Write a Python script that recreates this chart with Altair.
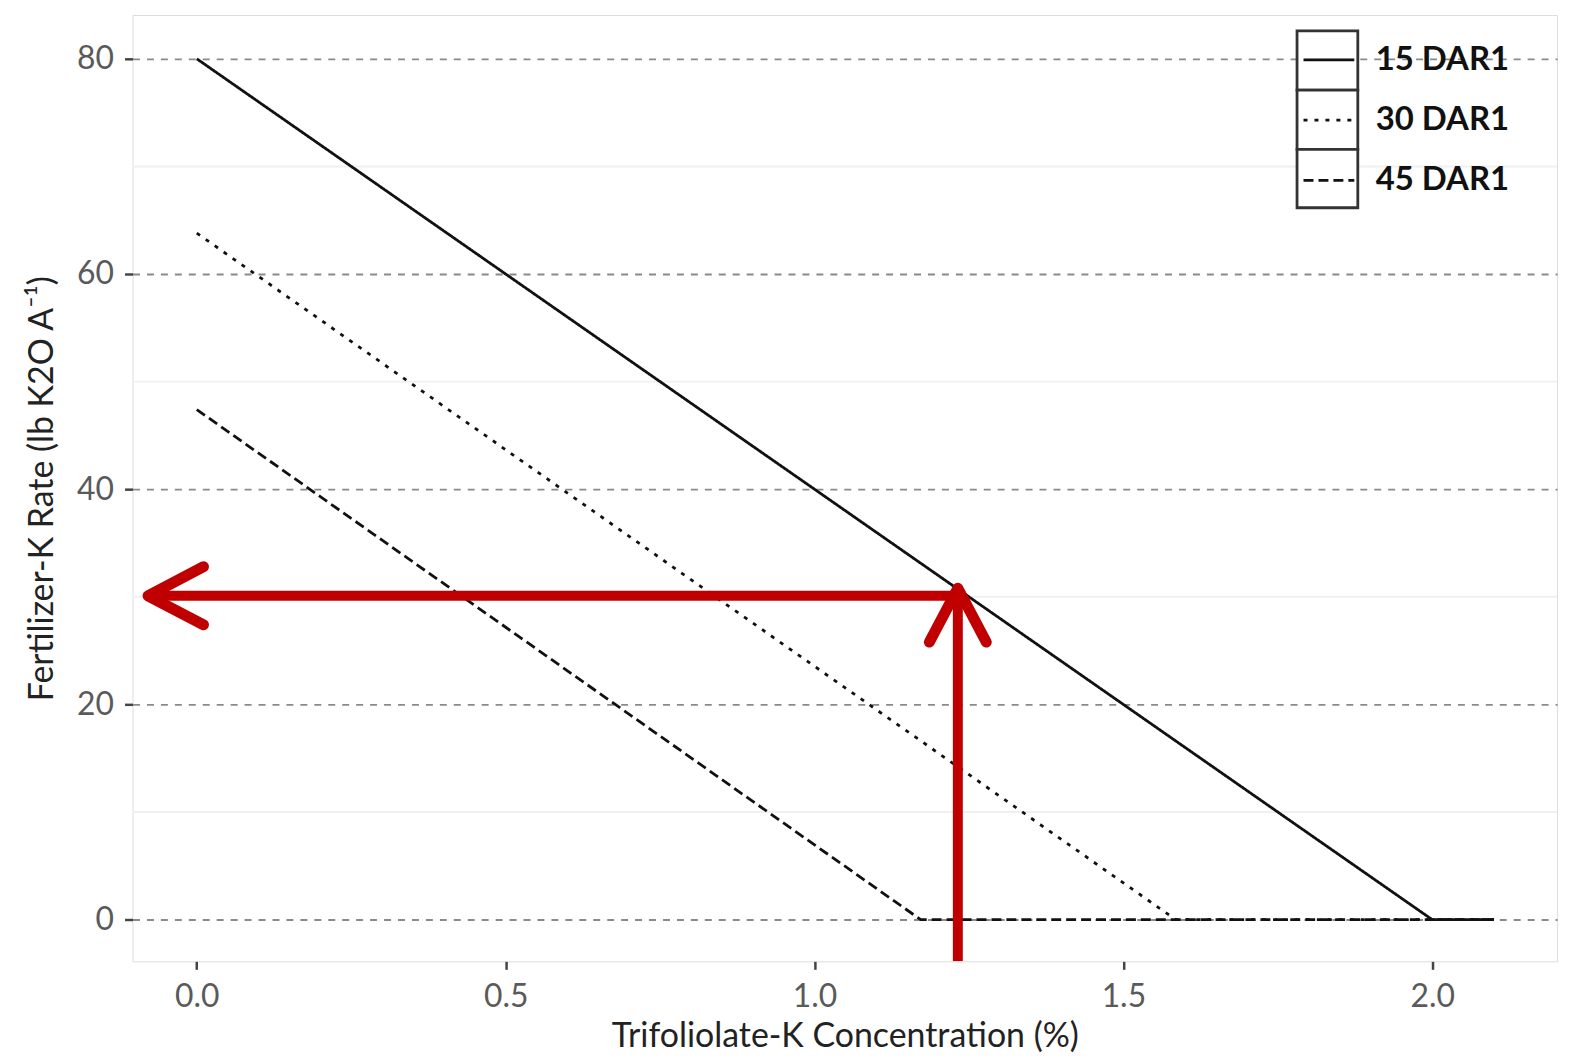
import altair as alt
import pandas as pd

# Series
series_names = ["15 DAR1", "30 DAR1", "45 DAR1"]
conc_15 = [0.0, 2.0, 2.1]
rate_15 = [80.0, 0.0, 0.0]
conc_30 = [0.0, 1.585, 2.1]
rate_30 = [63.8, 0.0, 0.0]
conc_45 = [0.0, 1.172, 2.1]
rate_45 = [47.4, 0.0, 0.0]

# Reading guide (red arrows)
target_conc = 1.232
target_rate = 30.1
h_arrow_tip = -0.079
h_arrow_arm_x = 0.09
h_arrow_arm_dy = 2.7
v_arrow_tip = 30.8
v_arrow_arm_y = 25.8
v_arrow_arm_dx = 0.046

x_ticks = [0.0, 0.5, 1.0, 1.5, 2.0]
y_ticks = [0, 20, 40, 60, 80]
y_minor = [10, 30, 50, 70]

X_DOMAIN = [-0.104, 2.202]
Y_DOMAIN = [-3.87, 84.07]

rows = []
for name, cs, rs in zip(series_names, [conc_15, conc_30, conc_45], [rate_15, rate_30, rate_45]):
    for i, (c, r) in enumerate(zip(cs, rs)):
        rows.append({"series": name, "conc": c, "rate": r, "order": i})
lines_df = pd.DataFrame(rows)

xs = alt.Scale(domain=X_DOMAIN, nice=False, zero=False)
ys = alt.Scale(domain=Y_DOMAIN, nice=False, zero=False)

FONT = "Lato"

x_axis = alt.Axis(values=x_ticks, format=".1f", grid=False, domain=False,
                  tickColor="#444444", tickSize=8, tickWidth=2.5,
                  labelColor="#5a5a5a", labelFontSize=32, labelFont=FONT, labelPadding=12,
                  title="Trifoliolate-K Concentration (%)", titleFont=FONT,
                  titleFontSize=34, titleFontWeight="normal", titleColor="#222222",
                  titlePadding=7)
y_axis = alt.Axis(values=y_ticks, grid=True, gridDash=[7, 7], gridColor="#8a8a8a",
                  gridWidth=1.8, domain=False,
                  tickColor="#444444", tickSize=8, tickWidth=2.5,
                  labelColor="#5a5a5a", labelFontSize=32, labelFont=FONT, labelPadding=11,
                  title="Fertilizer-K Rate (lb K2O A\u207b\u00b9)", titleFont=FONT,
                  titleFontSize=34, titleFontWeight="normal", titleColor="#222222",
                  titlePadding=17)

minor = alt.Chart(pd.DataFrame({"rate": y_minor})).mark_rule(
    color="#f0f0f0", strokeWidth=2
).encode(y=alt.Y("rate:Q", scale=ys, axis=y_axis))

lines = alt.Chart(lines_df).mark_line(color="#111111", strokeWidth=2.8, clip=True).encode(
    x=alt.X("conc:Q", scale=xs, axis=x_axis),
    y=alt.Y("rate:Q", scale=ys, axis=y_axis),
    order="order:O",
    strokeDash=alt.StrokeDash(
        "series:N",
        scale=alt.Scale(domain=series_names, range=[[1, 0], [4, 7], [10, 5]]),
        legend=alt.Legend(title=None, orient="none", legendX=1174, legendY=18,
                          symbolType="stroke", symbolSize=2600, symbolStrokeWidth=2.8,
                          symbolStrokeColor="#111111",
                          labelFont=FONT, labelFontSize=33, labelFontWeight="bold",
                          labelColor="#111111", labelOffset=20, rowPadding=16.5, padding=0),
    ),
)

# Legend key boxes (decoration)
box_x, box_x2 = 1169, 1230
box_rows = [(16, 75.5), (75.5, 135), (135, 193.5)]
boxes = []
for (y0, y1) in box_rows:
    boxes.append(
        alt.Chart(pd.DataFrame({"a": [0]})).mark_rect(
            fill="white", stroke="#333333", strokeWidth=2.8
        ).encode(x=alt.value(box_x), x2=alt.value(box_x2), y=alt.value(y0), y2=alt.value(y1))
    )

# Red arrows
shafts_df = pd.DataFrame({
    "x": [target_conc + 0.004, target_conc],
    "x2": [h_arrow_tip + 0.004, target_conc],
    "y": [target_rate, Y_DOMAIN[0]],
    "y2": [target_rate, v_arrow_tip - 0.4],
})
shafts = alt.Chart(shafts_df).mark_rule(color="#c00000", strokeWidth=10, clip=True).encode(
    x=alt.X("x:Q", scale=xs), x2="x2:Q", y=alt.Y("y:Q", scale=ys), y2="y2:Q"
)

heads_df = pd.DataFrame({
    "arrow": ["h", "h", "h", "v", "v", "v"],
    "order": [0, 1, 2, 0, 1, 2],
    "x": [h_arrow_tip + h_arrow_arm_x, h_arrow_tip, h_arrow_tip + h_arrow_arm_x,
          target_conc - v_arrow_arm_dx, target_conc, target_conc + v_arrow_arm_dx],
    "y": [target_rate + h_arrow_arm_dy, target_rate, target_rate - h_arrow_arm_dy,
          v_arrow_arm_y, v_arrow_tip, v_arrow_arm_y],
})
heads = alt.Chart(heads_df).mark_line(
    color="#c00000", strokeWidth=11, strokeCap="round", strokeJoin="round", clip=True
).encode(
    x=alt.X("x:Q", scale=xs), y=alt.Y("y:Q", scale=ys), detail="arrow:N", order="order:O"
)

chart = alt.layer(minor, lines, shafts, heads, *boxes).properties(
    width=1430, height=950,
    autosize=alt.AutoSizeParams(type="none"),
    padding={"left": 125, "top": 5, "right": 10, "bottom": 90},
).configure_view(stroke="#808080", strokeWidth=2.8).configure(background="white")

chart.save("out.html", embed_options={"renderer": "svg", "actions": False})
